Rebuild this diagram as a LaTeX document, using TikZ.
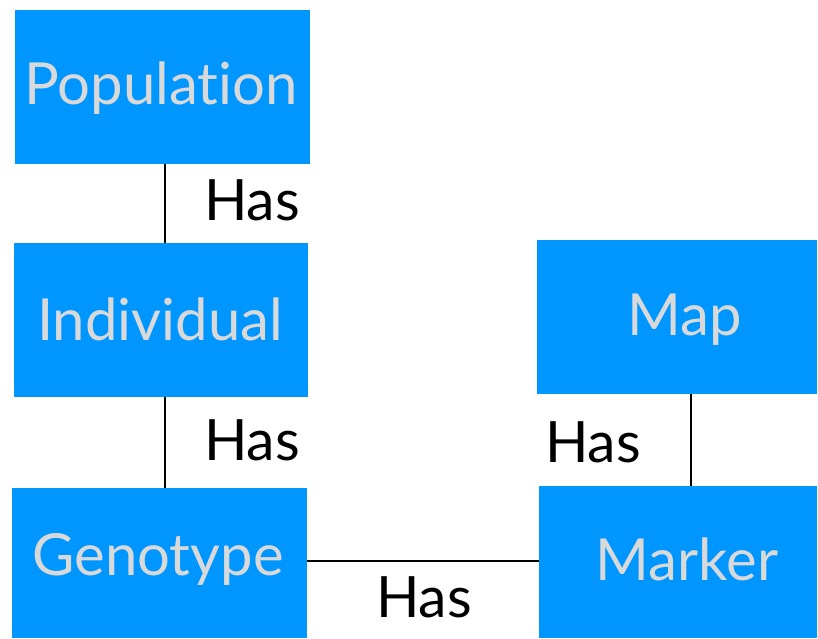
\documentclass[tikz,border=0pt]{standalone}
\usepackage{fontspec}
\setmainfont{Lato}[Ligatures={NoCommon}]
\definecolor{boxblue}{RGB}{0,150,255}
\definecolor{boxtext}{RGB}{217,217,217}
\begin{document}
\begin{tikzpicture}[x=1pt,y=-1pt,
  box/.style={fill=boxblue, draw=none, inner sep=0pt},
  boxlabel/.style={anchor=base, text=boxtext, inner sep=0pt, font=\fontsize{58}{60}\selectfont},
  haslabel/.style={anchor=base, text=black, inner sep=0pt, font=\fontsize{57}{60}\selectfont},
  link/.style={draw=black, line width=2pt}]
\useasboundingbox (0,0) rectangle (818,638);
\node[box, minimum width=295pt, minimum height=154pt] (pop) at (162.5,87) {};
\node[box, minimum width=294pt, minimum height=154pt] (ind) at (161,320) {};
\node[box, minimum width=295pt, minimum height=150pt] (gen) at (159.5,563) {};
\node[box, minimum width=280pt, minimum height=154pt] (map) at (677,317) {};
\node[box, minimum width=278pt, minimum height=152pt] (mar) at (678,562) {};
\node[boxlabel] (popt) at (161,104) {Population};
\node[boxlabel] (indt) at (160,340) {Individual};
\node[boxlabel] (gent) at (158,575) {Genotype};
\node[boxlabel] (mapt) at (685,335) {Map};
\node[boxlabel] (mart) at (687,580) {Marker};
\node[haslabel] (h1) at (252,220) {Has};
\node[haslabel] (h2) at (252,460) {Has};
\node[haslabel] (h3) at (593,462) {Has};
\node[haslabel] (h4) at (424,617) {Has};
\draw[link] (pop.south -| 165,0) -- (ind.north -| 165,0);
\draw[link] (ind.south -| 165,0) -- (gen.north -| 165,0);
\draw[link] (gen.east |- 0,561) -- (mar.west |- 0,561);
\draw[link] (map.south -| 691,0) -- (mar.north -| 691,0);
\end{tikzpicture}
\end{document}
